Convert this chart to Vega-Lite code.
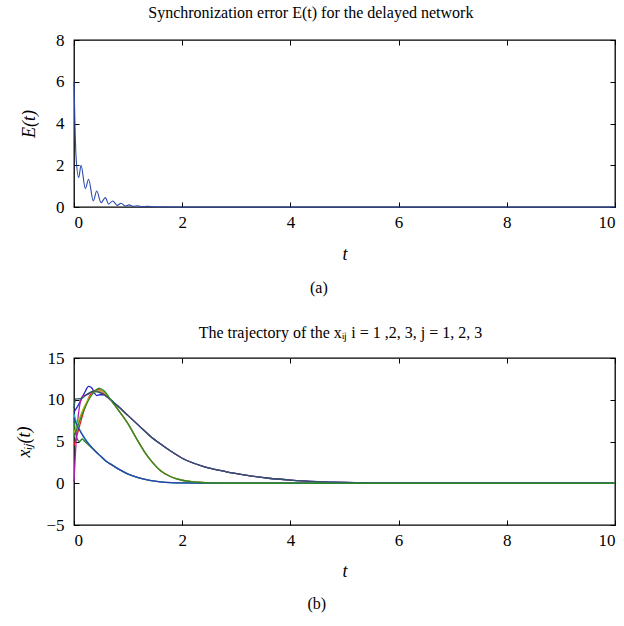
{
  "$schema": "https://vega.github.io/schema/vega-lite/v6.json",
  "padding": {"left": 15, "top": 4, "right": 5, "bottom": 4},
  "spacing": 28,
  "config": {
    "font": "Liberation Serif",
    "view": {"stroke": "black", "strokeWidth": 1.3},
    "axis": {
      "grid": false, "domain": false, "tickColor": "black", "tickSize": -5, "tickWidth": 1,
      "labelFont": "Liberation Serif", "labelFontSize": 17, "labelColor": "black", "labelPadding": 12,
      "titleFont": "Liberation Serif", "titleFontSize": 18, "titleFontStyle": "italic",
      "titleFontWeight": "normal", "titleColor": "black"
    },
    "axisY": {"labelPadding": 15},
    "title": {"font": "Liberation Serif", "fontSize": 16, "fontWeight": "normal", "color": "black"}
  },
  "datasets": {
    "err": [
      {"t": 0, "E": 6.0}, {"t": 0.018, "E": 3.96}, {"t": 0.037, "E": 2.44}, {"t": 0.087, "E": 1.41},
      {"t": 0.13, "E": 2.0}, {"t": 0.21, "E": 0.88}, {"t": 0.27, "E": 1.33}, {"t": 0.357, "E": 0.29},
      {"t": 0.42, "E": 0.77}, {"t": 0.5, "E": 0.21}, {"t": 0.58, "E": 0.45}, {"t": 0.64, "E": 0.14},
      {"t": 0.715, "E": 0.29}, {"t": 0.8, "E": 0.08}, {"t": 0.87, "E": 0.18}, {"t": 0.95, "E": 0.05},
      {"t": 1.02, "E": 0.1}, {"t": 1.1, "E": 0.03}, {"t": 1.18, "E": 0.06}, {"t": 1.25, "E": 0.02},
      {"t": 1.35, "E": 0.03}, {"t": 1.5, "E": 0.01}, {"t": 2, "E": 0}, {"t": 10, "E": 0}
    ],
    "traj": [
      {"s": "x11", "t": 0, "v": 8.5}, {"s": "x11", "t": 0.1, "v": 9.6}, {"s": "x11", "t": 0.2, "v": 10.9},
      {"s": "x11", "t": 0.27, "v": 11.6}, {"s": "x11", "t": 0.33, "v": 11.4}, {"s": "x11", "t": 0.38, "v": 10.8},
      {"s": "x11", "t": 0.42, "v": 10.5}, {"s": "x11", "t": 0.48, "v": 10.6}, {"s": "x11", "t": 0.55, "v": 10.6},
      {"s": "x11", "t": 0.6, "v": 10.4}, {"s": "x11", "t": 0.8, "v": 9.3}, {"s": "x11", "t": 1.0, "v": 8.1},
      {"s": "x11", "t": 1.2, "v": 6.9}, {"s": "x11", "t": 1.4, "v": 5.7}, {"s": "x11", "t": 1.6, "v": 4.7},
      {"s": "x11", "t": 1.8, "v": 3.8}, {"s": "x11", "t": 2.0, "v": 3.0}, {"s": "x11", "t": 2.4, "v": 2.0},
      {"s": "x11", "t": 2.8, "v": 1.4}, {"s": "x11", "t": 3.2, "v": 0.95}, {"s": "x11", "t": 3.6, "v": 0.6},
      {"s": "x11", "t": 4.0, "v": 0.38}, {"s": "x11", "t": 4.5, "v": 0.2}, {"s": "x11", "t": 5.0, "v": 0.1},
      {"s": "x11", "t": 6.0, "v": 0.02}, {"s": "x11", "t": 7.0, "v": 0}, {"s": "x11", "t": 10, "v": 0},

      {"s": "x12", "t": 0, "v": 7.5}, {"s": "x12", "t": 0.05, "v": 5.5}, {"s": "x12", "t": 0.1, "v": 5.0},
      {"s": "x12", "t": 0.15, "v": 5.3}, {"s": "x12", "t": 0.2, "v": 5.0}, {"s": "x12", "t": 0.3, "v": 4.4},
      {"s": "x12", "t": 0.4, "v": 3.8}, {"s": "x12", "t": 0.5, "v": 3.2}, {"s": "x12", "t": 0.6, "v": 2.6},
      {"s": "x12", "t": 0.7, "v": 2.2}, {"s": "x12", "t": 0.85, "v": 1.6}, {"s": "x12", "t": 1.0, "v": 1.1},
      {"s": "x12", "t": 1.2, "v": 0.65}, {"s": "x12", "t": 1.4, "v": 0.35}, {"s": "x12", "t": 1.6, "v": 0.17},
      {"s": "x12", "t": 1.8, "v": 0.08}, {"s": "x12", "t": 2.0, "v": 0.04}, {"s": "x12", "t": 2.5, "v": 0.01},
      {"s": "x12", "t": 3.0, "v": 0}, {"s": "x12", "t": 10, "v": 0},

      {"s": "x13", "t": 0, "v": 4.5}, {"s": "x13", "t": 0.1, "v": 6.8}, {"s": "x13", "t": 0.2, "v": 9.0},
      {"s": "x13", "t": 0.3, "v": 10.6}, {"s": "x13", "t": 0.38, "v": 11.1}, {"s": "x13", "t": 0.46, "v": 11.2},
      {"s": "x13", "t": 0.55, "v": 10.9}, {"s": "x13", "t": 0.7, "v": 9.8}, {"s": "x13", "t": 0.85, "v": 8.5},
      {"s": "x13", "t": 1.0, "v": 7.1}, {"s": "x13", "t": 1.15, "v": 5.4}, {"s": "x13", "t": 1.3, "v": 3.8},
      {"s": "x13", "t": 1.45, "v": 2.5}, {"s": "x13", "t": 1.6, "v": 1.5}, {"s": "x13", "t": 1.8, "v": 0.75},
      {"s": "x13", "t": 2.0, "v": 0.36}, {"s": "x13", "t": 2.3, "v": 0.12}, {"s": "x13", "t": 2.6, "v": 0.03},
      {"s": "x13", "t": 3.0, "v": 0}, {"s": "x13", "t": 10, "v": 0},

      {"s": "x21", "t": 0, "v": 8.3}, {"s": "x21", "t": 0.05, "v": 7.2}, {"s": "x21", "t": 0.1, "v": 6.5},
      {"s": "x21", "t": 0.2, "v": 5.4}, {"s": "x21", "t": 0.3, "v": 4.5}, {"s": "x21", "t": 0.4, "v": 3.8},
      {"s": "x21", "t": 0.5, "v": 3.2}, {"s": "x21", "t": 0.6, "v": 2.6}, {"s": "x21", "t": 0.7, "v": 2.2},
      {"s": "x21", "t": 0.85, "v": 1.6}, {"s": "x21", "t": 1.0, "v": 1.1}, {"s": "x21", "t": 1.2, "v": 0.65},
      {"s": "x21", "t": 1.4, "v": 0.35}, {"s": "x21", "t": 1.6, "v": 0.17}, {"s": "x21", "t": 1.8, "v": 0.08},
      {"s": "x21", "t": 2.0, "v": 0.04}, {"s": "x21", "t": 2.5, "v": 0.01}, {"s": "x21", "t": 3.0, "v": 0},
      {"s": "x21", "t": 10, "v": 0},

      {"s": "x22", "t": 0, "v": 0.2}, {"s": "x22", "t": 0.03, "v": 4.0}, {"s": "x22", "t": 0.07, "v": 7.5},
      {"s": "x22", "t": 0.12, "v": 9.8}, {"s": "x22", "t": 0.17, "v": 10.5}, {"s": "x22", "t": 0.25, "v": 10.6},
      {"s": "x22", "t": 0.35, "v": 11.0}, {"s": "x22", "t": 0.45, "v": 11.0}, {"s": "x22", "t": 0.55, "v": 10.7},
      {"s": "x22", "t": 0.65, "v": 10.1}, {"s": "x22", "t": 0.8, "v": 9.3}, {"s": "x22", "t": 1.0, "v": 8.1},
      {"s": "x22", "t": 1.2, "v": 6.9}, {"s": "x22", "t": 1.4, "v": 5.7}, {"s": "x22", "t": 1.6, "v": 4.7},
      {"s": "x22", "t": 1.8, "v": 3.8}, {"s": "x22", "t": 2.0, "v": 3.0}, {"s": "x22", "t": 2.4, "v": 2.0},
      {"s": "x22", "t": 2.8, "v": 1.4}, {"s": "x22", "t": 3.2, "v": 0.95}, {"s": "x22", "t": 3.6, "v": 0.6},
      {"s": "x22", "t": 4.0, "v": 0.38}, {"s": "x22", "t": 4.5, "v": 0.2}, {"s": "x22", "t": 5.0, "v": 0.1},
      {"s": "x22", "t": 6.0, "v": 0.02}, {"s": "x22", "t": 7.0, "v": 0}, {"s": "x22", "t": 10, "v": 0},

      {"s": "x23", "t": 0, "v": 6.0}, {"s": "x23", "t": 0.1, "v": 7.8}, {"s": "x23", "t": 0.2, "v": 9.3},
      {"s": "x23", "t": 0.3, "v": 10.4}, {"s": "x23", "t": 0.4, "v": 11.0}, {"s": "x23", "t": 0.48, "v": 11.1},
      {"s": "x23", "t": 0.55, "v": 10.9}, {"s": "x23", "t": 0.7, "v": 9.8}, {"s": "x23", "t": 0.85, "v": 8.5},
      {"s": "x23", "t": 1.0, "v": 7.1}, {"s": "x23", "t": 1.15, "v": 5.4}, {"s": "x23", "t": 1.3, "v": 3.8},
      {"s": "x23", "t": 1.45, "v": 2.5}, {"s": "x23", "t": 1.6, "v": 1.5}, {"s": "x23", "t": 1.8, "v": 0.75},
      {"s": "x23", "t": 2.0, "v": 0.36}, {"s": "x23", "t": 2.3, "v": 0.12}, {"s": "x23", "t": 2.6, "v": 0.03},
      {"s": "x23", "t": 3.0, "v": 0}, {"s": "x23", "t": 10, "v": 0},

      {"s": "x31", "t": 0, "v": 9.0}, {"s": "x31", "t": 0.03, "v": 10.1}, {"s": "x31", "t": 0.08, "v": 10.1},
      {"s": "x31", "t": 0.15, "v": 10.2}, {"s": "x31", "t": 0.25, "v": 10.7}, {"s": "x31", "t": 0.35, "v": 11.0},
      {"s": "x31", "t": 0.45, "v": 10.9}, {"s": "x31", "t": 0.55, "v": 10.6}, {"s": "x31", "t": 0.6, "v": 10.4},
      {"s": "x31", "t": 0.8, "v": 9.3}, {"s": "x31", "t": 1.0, "v": 8.1}, {"s": "x31", "t": 1.2, "v": 6.9},
      {"s": "x31", "t": 1.4, "v": 5.7}, {"s": "x31", "t": 1.6, "v": 4.7}, {"s": "x31", "t": 1.8, "v": 3.8},
      {"s": "x31", "t": 2.0, "v": 3.0}, {"s": "x31", "t": 2.4, "v": 2.0}, {"s": "x31", "t": 2.8, "v": 1.4},
      {"s": "x31", "t": 3.2, "v": 0.95}, {"s": "x31", "t": 3.6, "v": 0.6}, {"s": "x31", "t": 4.0, "v": 0.38},
      {"s": "x31", "t": 4.5, "v": 0.2}, {"s": "x31", "t": 5.0, "v": 0.1}, {"s": "x31", "t": 6.0, "v": 0.02},
      {"s": "x31", "t": 7.0, "v": 0}, {"s": "x31", "t": 10, "v": 0},

      {"s": "x32", "t": 0, "v": 7.8}, {"s": "x32", "t": 0.05, "v": 7.0}, {"s": "x32", "t": 0.1, "v": 6.4},
      {"s": "x32", "t": 0.2, "v": 5.3}, {"s": "x32", "t": 0.3, "v": 4.5}, {"s": "x32", "t": 0.4, "v": 3.8},
      {"s": "x32", "t": 0.5, "v": 3.2}, {"s": "x32", "t": 0.6, "v": 2.6}, {"s": "x32", "t": 0.7, "v": 2.2},
      {"s": "x32", "t": 0.85, "v": 1.6}, {"s": "x32", "t": 1.0, "v": 1.1}, {"s": "x32", "t": 1.2, "v": 0.65},
      {"s": "x32", "t": 1.4, "v": 0.35}, {"s": "x32", "t": 1.6, "v": 0.17}, {"s": "x32", "t": 1.8, "v": 0.08},
      {"s": "x32", "t": 2.0, "v": 0.04}, {"s": "x32", "t": 2.5, "v": 0.01}, {"s": "x32", "t": 3.0, "v": 0},
      {"s": "x32", "t": 10, "v": 0},

      {"s": "x33", "t": 0, "v": 5.5}, {"s": "x33", "t": 0.1, "v": 7.4}, {"s": "x33", "t": 0.2, "v": 9.0},
      {"s": "x33", "t": 0.3, "v": 10.3}, {"s": "x33", "t": 0.4, "v": 11.1}, {"s": "x33", "t": 0.46, "v": 11.4},
      {"s": "x33", "t": 0.55, "v": 11.1}, {"s": "x33", "t": 0.7, "v": 9.8}, {"s": "x33", "t": 0.85, "v": 8.5},
      {"s": "x33", "t": 1.0, "v": 7.1}, {"s": "x33", "t": 1.15, "v": 5.4}, {"s": "x33", "t": 1.3, "v": 3.8},
      {"s": "x33", "t": 1.45, "v": 2.5}, {"s": "x33", "t": 1.6, "v": 1.5}, {"s": "x33", "t": 1.8, "v": 0.75},
      {"s": "x33", "t": 2.0, "v": 0.36}, {"s": "x33", "t": 2.3, "v": 0.12}, {"s": "x33", "t": 2.6, "v": 0.03},
      {"s": "x33", "t": 3.0, "v": 0}, {"s": "x33", "t": 10, "v": 0}
    ]
  },
  "vconcat": [
    {
      "title": {"text": "(a)", "orient": "bottom", "anchor": "middle", "offset": 16, "fontSize": 16},
      "vconcat": [
        {
          "title": {"text": "Synchronization error E(t) for the delayed network", "offset": 10, "anchor": "middle", "frame": "bounds", "dx": -8},
          "width": 541,
          "height": 167,
          "data": {"name": "err"},
          "layer": [
            {
              "mark": {"type": "line", "color": "#2a49b0", "strokeWidth": 1.1, "interpolate": "monotone"},
              "encoding": {
                "x": {"field": "t", "type": "quantitative", "scale": {"domain": [0, 10], "nice": false},
                      "axis": {"orient": "bottom", "values": [0, 2, 4, 6, 8, 10], "title": "t", "titlePadding": 15}},
                "y": {"field": "E", "type": "quantitative", "scale": {"domain": [0, 8], "nice": false},
                      "axis": {"orient": "left", "values": [0, 2, 4, 6, 8], "title": "E(t)", "titlePadding": 17}}
              }
            },
            {
              "mark": {"type": "line", "strokeOpacity": 0},
              "encoding": {
                "x": {"field": "t", "type": "quantitative",
                      "axis": {"orient": "top", "values": [0, 2, 4, 6, 8, 10], "labels": false, "title": null}},
                "y": {"field": "E", "type": "quantitative",
                      "axis": {"orient": "right", "values": [0, 2, 4, 6, 8], "labels": false, "title": null}}
              }
            }
          ],
          "resolve": {"axis": {"x": "independent", "y": "independent"}}
        }
      ]
    },
    {
      "title": {"text": "(b)", "orient": "bottom", "anchor": "middle", "offset": 15, "fontSize": 16},
      "vconcat": [
        {
          "title": {"text": "The trajectory of the xᵢⱼ i = 1 ,2, 3, j = 1, 2, 3", "offset": 8, "anchor": "middle", "dx": -4},
          "width": 541,
          "height": 167,
          "data": {"name": "traj"},
          "layer": [
            {
              "mark": {"type": "line", "strokeWidth": 1.3, "interpolate": "monotone"},
              "encoding": {
                "x": {"field": "t", "type": "quantitative", "scale": {"domain": [0, 10], "nice": false},
                      "axis": {"orient": "bottom", "values": [0, 2, 4, 6, 8, 10], "title": "t", "titlePadding": 14}},
                "y": {"field": "v", "type": "quantitative", "scale": {"domain": [-5, 15], "nice": false},
                      "axis": {"orient": "left", "values": [-5, 0, 5, 10, 15], "title": "xᵢⱼ(t)", "titlePadding": 12}},
                "color": {"field": "s", "type": "nominal", "legend": null,
                          "scale": {"domain": ["x11", "x12", "x13", "x21", "x22", "x23", "x31", "x32", "x33"],
                                    "range": ["#2323d0", "#1f8a1f", "#e02020", "#10bcbc", "#b020b0", "#b8b81c", "#285a5f", "#3a3ab0", "#2a8a2a"]}}
              }
            },
            {
              "mark": {"type": "line", "strokeOpacity": 0},
              "encoding": {
                "x": {"field": "t", "type": "quantitative",
                      "axis": {"orient": "top", "values": [0, 2, 4, 6, 8, 10], "labels": false, "title": null}},
                "y": {"field": "v", "type": "quantitative",
                      "axis": {"orient": "right", "values": [-5, 0, 5, 10, 15], "labels": false, "title": null}},
                "detail": {"field": "s"}
              }
            }
          ],
          "resolve": {"axis": {"x": "independent", "y": "independent"}}
        }
      ]
    }
  ]
}
